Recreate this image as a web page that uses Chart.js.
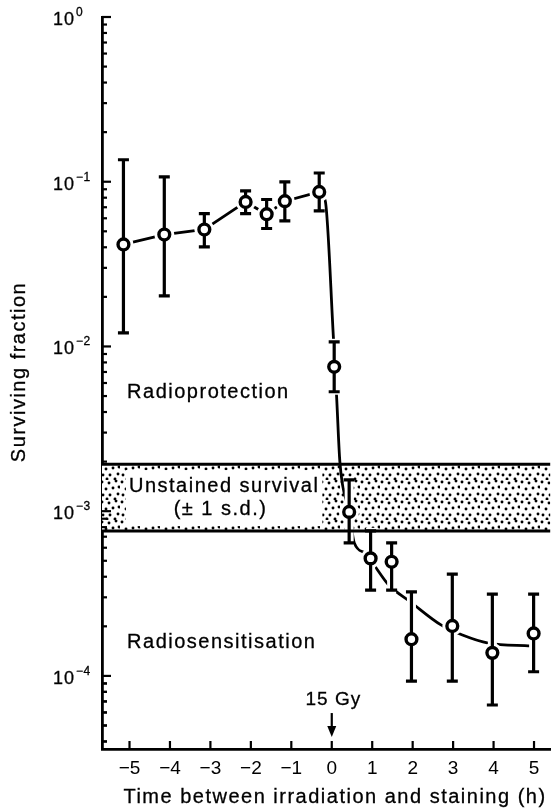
<!DOCTYPE html>
<html>
<head>
<meta charset="utf-8">
<script src="https://cdn.jsdelivr.net/npm/chart.js@4/dist/chart.umd.min.js"></script>
<style>
html,body{margin:0;padding:0;background:#fff;}
canvas{display:block;}
</style>
</head>
<body>
<canvas id="c" width="559" height="809"></canvas>
<script>
// ---- data ----
const times     = [-5.15, -4.14, -3.15, -2.13, -1.61, -1.16, -0.31, 0.06, 0.43, 0.96, 1.48, 1.97, 2.98, 3.97, 4.99];
const survival  = [0.0416, 0.0478, 0.0513, 0.0754, 0.0635, 0.0762, 0.0867, 0.00752, 0.00099, 0.000517, 0.000493, 0.000167, 0.000201, 0.000138, 0.000181];
const errHigh   = [0.136, 0.107, 0.0641, 0.0880, 0.0780, 0.0997, 0.113, 0.01067, 0.00155, 0.00076, 0.000643, 0.000324, 0.000415, 0.000314, 0.000314];
const errLow    = [0.0121, 0.0203, 0.0402, 0.0641, 0.0520, 0.0578, 0.0665, 0.00531, 0.000643, 0.000332, 0.000332, 0.0000931, 0.0000931, 0.0000666, 0.000106];
// pre-irradiation part of the fitted line (straight joins)
const lineX     = [-5.15, -4.14, -3.15, -2.13, -1.61, -1.16, -0.31];
const lineY     = [0.0416, 0.0478, 0.0513, 0.0754, 0.0635, 0.0762, 0.0867];
// post-irradiation smooth curve
const curveX    = [-0.31, -0.16, 0.04, 0.08, 0.12, 0.20, 0.43, 0.56, 0.84, 1.05, 1.41, 1.94, 2.70, 3.23, 3.87, 4.92];
const curveY    = [0.0867, 0.0764, 0.0114, 0.0075, 0.00494, 0.0020, 0.00099, 0.000638, 0.000555, 0.00047, 0.000356, 0.000282, 0.000204, 0.000177, 0.000158, 0.000152];
const bandLow   = 0.000757;   // unstained survival - 1 s.d.
const bandHigh  = 0.00193;    // unstained survival + 1 s.d.
const xTicks      = [-5, -4, -3, -2, -1, 0, 1, 2, 3, 4, 5];
const xTickLabels = ['\u22125', '\u22124', '\u22123', '\u22122', '\u22121', '0', '1', '2', '3', '4', '5'];
const yDecades    = [1, 0.1, 0.01, 0.001, 0.0001];
const yDecadeExp  = ['0', '\u22121', '\u22122', '\u22123', '\u22124'];
const xTitle = 'Time between irradiation and staining (h)';
const yTitle = 'Surviving fraction';
const doseLabel = '15 Gy';
const regionLabels = ['Radioprotection', 'Unstained survival', '(\u00b1 1 s.d.)', 'Radiosensitisation'];

// ---- styles ----
const FONT = '"Liberation Sans", Arial, Helvetica, sans-serif';
const INK = '#000';

function makePattern() {
  const c = document.createElement('canvas');
  c.width = 20; c.height = 20;
  const g = c.getContext('2d');
  g.fillStyle = '#fff'; g.fillRect(0, 0, 20, 20);
  g.fillStyle = INK;
  const dots = [[2,2],[9,3],[16,1],[6,9],[13,8],[18,14],[3,15],[10,15],[15,19],[19,7],[7,19]];
  dots.forEach(([a, b]) => { g.beginPath(); g.arc(a, b, 1.45, 0, Math.PI * 2); g.fill(); });
  return c;
}

function txt(ctx, s, x, y, size, align, spacing) {
  ctx.font = size + 'px ' + FONT;
  ctx.letterSpacing = (spacing || 0) + 'px';
  ctx.textAlign = align || 'center';
  ctx.lineWidth = 0.3;
  ctx.strokeStyle = INK;
  ctx.fillText(s, x, y);
  ctx.strokeText(s, x, y);
}

const decor = {
  id: 'decor',
  beforeDatasetsDraw(chart) {
    const {ctx, chartArea: a, scales: {x, y}} = chart;
    const yt = y.getPixelForValue(bandHigh), yb = y.getPixelForValue(bandLow);
    ctx.save();
    ctx.fillStyle = ctx.createPattern(makePattern(), 'repeat');
    ctx.fillRect(a.left, yt, a.right - a.left, yb - yt);
    // white box behind band text
    ctx.font = '20px ' + FONT; ctx.letterSpacing = '1.5px';
    const w = ctx.measureText(regionLabels[1]).width;
    const cx = x.getPixelForValue(-2.66);
    ctx.fillStyle = '#fff';
    ctx.fillRect(cx - w / 2 - 3, yt + 6, w + 6, yb - yt - 11);
    ctx.fillStyle = INK;
    ctx.textBaseline = 'middle';
    txt(ctx, regionLabels[1], cx, y.getPixelForValue(0.00141), 20, 'center', 1.5);
    txt(ctx, regionLabels[2], x.getPixelForValue(-2.75), y.getPixelForValue(0.00102), 20, 'center', 1.5);
    ctx.restore();
  },
  afterDatasetDraw(chart, args) {
    if (args.index !== 1) return;
    const {ctx, chartArea: a, scales: {x, y}} = chart;
    ctx.save();
    // white halos (gaps of the line around error bars and symbols)
    ctx.strokeStyle = '#fff'; ctx.fillStyle = '#fff';
    ctx.lineWidth = 9; ctx.lineCap = 'butt';
    times.forEach((t, i) => {
      const px = x.getPixelForValue(t);
      ctx.beginPath();
      ctx.moveTo(px, y.getPixelForValue(errHigh[i]) - 3);
      ctx.lineTo(px, y.getPixelForValue(errLow[i]) + 3);
      ctx.stroke();
      ctx.beginPath();
      ctx.arc(px, y.getPixelForValue(survival[i]), 10, 0, Math.PI * 2);
      ctx.fill();
    });
    // band boundary lines
    ctx.strokeStyle = INK; ctx.lineWidth = 3;
    [bandHigh, bandLow].forEach(v => {
      const py = y.getPixelForValue(v);
      ctx.beginPath(); ctx.moveTo(a.left, py); ctx.lineTo(a.right, py); ctx.stroke();
    });
    // error bars
    ctx.lineWidth = 3.2;
    times.forEach((t, i) => {
      const px = x.getPixelForValue(t);
      const ph = y.getPixelForValue(errHigh[i]), pl = y.getPixelForValue(errLow[i]);
      ctx.beginPath();
      ctx.moveTo(px, ph); ctx.lineTo(px, pl);
      ctx.moveTo(px - 5.5, ph); ctx.lineTo(px + 5.5, ph);
      ctx.moveTo(px - 5.5, pl); ctx.lineTo(px + 5.5, pl);
      ctx.stroke();
    });
    ctx.restore();
  },
  afterDraw(chart) {
    const {ctx, chartArea: a, scales: {x, y}} = chart;
    ctx.save();
    ctx.strokeStyle = INK; ctx.fillStyle = INK;
    // y ticks (inward)
    ctx.lineWidth = 2.2;
    yDecades.forEach(d => {
      const py = y.getPixelForValue(d);
      ctx.beginPath(); ctx.moveTo(a.left, py); ctx.lineTo(a.left + 9, py); ctx.stroke();
      for (let m = 2; m <= 9; m++) {
        const v = d * m / 10;
        if (v < y.min) continue;
        const pm = y.getPixelForValue(v);
        ctx.beginPath(); ctx.moveTo(a.left, pm); ctx.lineTo(a.left + 5, pm); ctx.stroke();
      }
    });
    for (let m = 4; m <= 9; m++) {
      const v = m * 1e-5;
      if (v < y.min) continue;
      const pm = y.getPixelForValue(v);
      ctx.beginPath(); ctx.moveTo(a.left, pm); ctx.lineTo(a.left + 5, pm); ctx.stroke();
    }
    // x ticks (inward)
    xTicks.forEach(t => {
      const px = x.getPixelForValue(t);
      ctx.beginPath(); ctx.moveTo(px, a.bottom); ctx.lineTo(px, a.bottom - 8); ctx.stroke();
    });
    // y tick labels 10^n
    ctx.textBaseline = 'alphabetic';
    yDecades.forEach((d, i) => {
      const py = y.getPixelForValue(d);
      txt(ctx, '10', a.left - 27, py + 8, 18, 'right', 1);
      txt(ctx, yDecadeExp[i], a.left - 26, py - 1, 12, 'left', 0.5);
    });
    // axis titles
    ctx.textBaseline = 'alphabetic';
    txt(ctx, xTitle, x.getPixelForValue(0.08), 803, 20, 'center', 1.5);
    ctx.save();
    ctx.translate(25, y.getPixelForValue(0.007));
    ctx.rotate(-Math.PI / 2);
    txt(ctx, yTitle, 0, 0, 20, 'center', 1.5);
    ctx.restore();
    // region labels
    ctx.textBaseline = 'middle';
    txt(ctx, regionLabels[0], x.getPixelForValue(-3.05), y.getPixelForValue(0.00528), 20, 'center', 1.5);
    txt(ctx, regionLabels[3], x.getPixelForValue(-2.72), y.getPixelForValue(0.000160), 20, 'center', 1.5);
    // dose annotation with arrow
    txt(ctx, doseLabel, x.getPixelForValue(0.04), y.getPixelForValue(7.19e-5), 19, 'center', 1);
    const ax = x.getPixelForValue(0);
    const aTop = y.getPixelForValue(5.95e-5), aTip = y.getPixelForValue(4.26e-5);
    ctx.lineWidth = 2.2;
    ctx.beginPath(); ctx.moveTo(ax, aTop); ctx.lineTo(ax, aTip - 8); ctx.stroke();
    ctx.beginPath(); ctx.moveTo(ax - 4.5, aTip - 11); ctx.lineTo(ax + 4.5, aTip - 11); ctx.lineTo(ax, aTip); ctx.closePath(); ctx.fill();
    ctx.restore();
  }
};

new Chart(document.getElementById('c'), {
  type: 'scatter',
  data: {
    datasets: [
      {
        data: lineX.map((v, i) => ({x: v, y: lineY[i]})),
        showLine: true, fill: false,
        borderColor: INK, borderWidth: 2.8, tension: 0,
        pointRadius: 0,
        order: 3
      },
      {
        data: curveX.map((v, i) => ({x: v, y: curveY[i]})),
        showLine: true, fill: false,
        borderColor: INK, borderWidth: 2.8,
        pointRadius: 0, cubicInterpolationMode: 'monotone',
        order: 2
      },
      {
        data: times.map((v, i) => ({x: v, y: survival[i]})),
        showLine: false,
        pointRadius: 5.4, pointBorderWidth: 3.4,
        pointBackgroundColor: '#fff', pointBorderColor: INK,
        order: 1
      }
    ]
  },
  options: {
    responsive: false, animation: false, devicePixelRatio: 1,
    layout: {padding: {top: 17, right: 0, left: 0, bottom: 0}},
    plugins: {legend: {display: false}, tooltip: {enabled: false}},
    scales: {
      x: {
        type: 'linear', min: -5.68, max: 5.4,
        grid: {display: false, drawTicks: false},
        border: {display: true, color: INK, width: 2.8},
        afterBuildTicks: s => { s.ticks = xTicks.map(v => ({value: v})); },
        afterFit: s => { s.height = 60; },
        ticks: {
          color: INK, padding: 8, autoSkip: false, maxRotation: 0,
          font: {family: FONT, size: 19},
          callback: v => xTickLabels[xTicks.indexOf(v)]
        }
      },
      y: {
        type: 'logarithmic', min: 3.6e-5, max: 1,
        grid: {display: false, drawTicks: false},
        border: {display: true, color: INK, width: 2.8},
        ticks: {display: false},
        afterFit: s => { s.width = 102; }
      }
    }
  },
  plugins: [decor]
});
</script>
</body>
</html>
